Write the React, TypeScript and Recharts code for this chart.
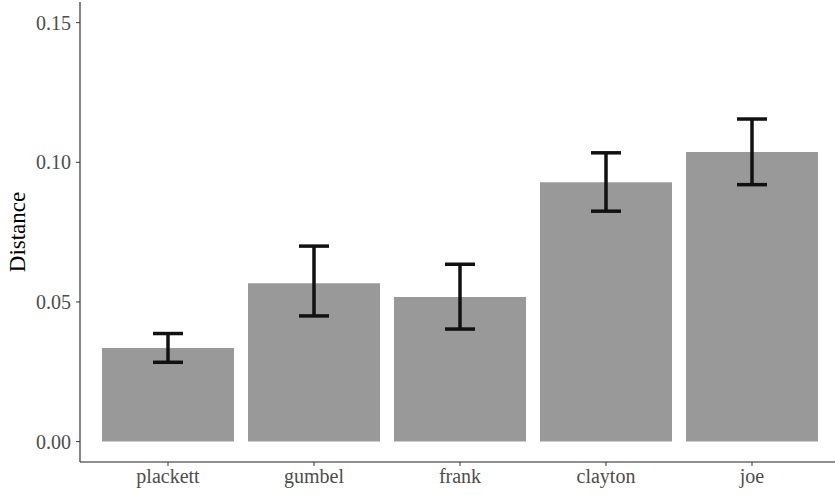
import { BarChart, Bar, XAxis, YAxis, ErrorBar } from "recharts";

const models = ["plackett", "gumbel", "frank", "clayton", "joe"];
const distance = [0.0335, 0.0567, 0.0518, 0.0929, 0.1037];
const lower = [0.0284, 0.045, 0.0403, 0.0825, 0.092];
const upper = [0.0387, 0.07, 0.0635, 0.1034, 0.1155];
const yTicks = [0, 0.05, 0.1, 0.15];

const data = models.map((m, i) => ({
  model: m,
  distance: distance[i],
  err: [distance[i] - lower[i], upper[i] - distance[i]],
}));

const font = "'Liberation Serif', 'Times New Roman', serif";

export default function App() {
  return (
    <div style={{ position: "absolute", left: 0, top: 0 }}>
      <BarChart
        width={835}
        height={495}
        data={data}
        margin={{ top: 2, right: 0, bottom: 0, left: 0 }}
        barSize={132}
      >
        <XAxis
          dataKey="model"
          height={33}
          padding={{ left: 15, right: 10 }}
          axisLine={{ stroke: "#222", strokeWidth: 1.1 }}
          tickLine={{ stroke: "#333" }}
          tickSize={4}
          tickMargin={3}
          tick={{ fill: "#4d4d4d", fontSize: 20, fontFamily: font }}
        />
        <YAxis
          type="number"
          width={80}
          domain={[-0.0073, 0.1574]}
          ticks={yTicks}
          allowDataOverflow
          tickFormatter={(v: number) => v.toFixed(2)}
          axisLine={{ stroke: "#222", strokeWidth: 1.1 }}
          tickLine={{ stroke: "#333" }}
          tickSize={4}
          tickMargin={5}
          tick={{ fill: "#4d4d4d", fontSize: 20, fontFamily: font }}
          label={{
            value: "Distance",
            angle: -90,
            position: "insideLeft",
            offset: 17,
            style: {
              fill: "#000",
              fontSize: "23px",
              fontFamily: font,
              textAnchor: "middle",
            },
          }}
        />
        <Bar dataKey="distance" fill="#999999" isAnimationActive={false}>
          <ErrorBar
            dataKey="err"
            direction="y"
            width={15}
            stroke="#111"
            strokeWidth={3.5}
            isAnimationActive={false}
          />
        </Bar>
      </BarChart>
    </div>
  );
}
